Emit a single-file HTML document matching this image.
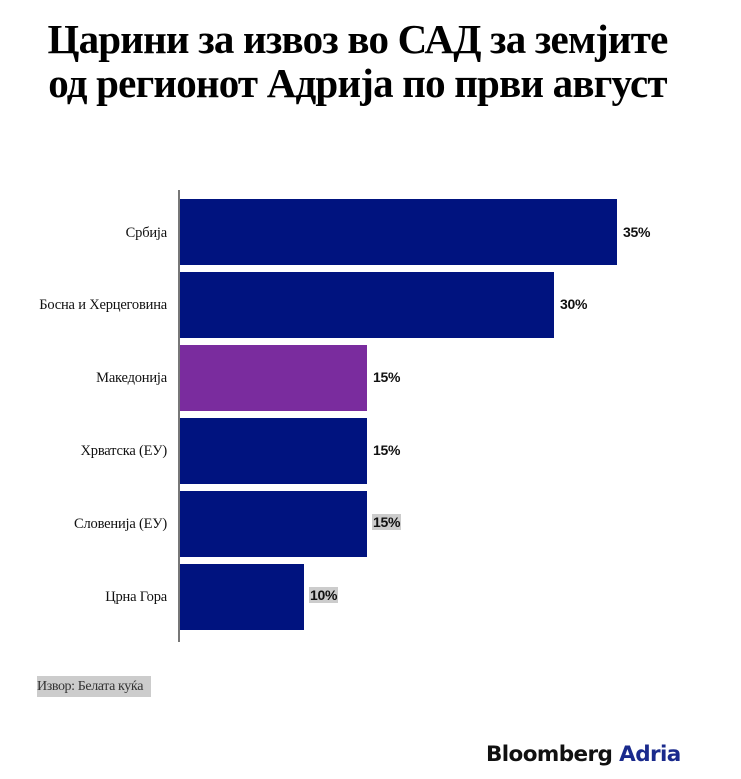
<!DOCTYPE html>
<html><head><meta charset="utf-8"><style>
body{margin:0;width:741px;height:779px;background:#fff;position:relative;overflow:hidden;font-family:"Liberation Serif",serif}
.t{position:absolute;left:-13px;width:741px;text-align:center;font-weight:bold;font-size:41px;letter-spacing:-0.8px;color:#000;line-height:46px}
.lab{position:absolute;right:574px;font-size:14.5px;letter-spacing:-0.2px;color:#111;text-align:right;white-space:nowrap;line-height:16px}
.bar{position:absolute;left:180px;height:66px;background:#00137f}
.v{position:absolute;font-family:"Liberation Sans",sans-serif;font-weight:bold;font-size:14px;color:#111;line-height:16px;letter-spacing:-0.3px}
.hl{background:#ccc;padding:0 1px}
</style></head><body>
<div class="t" style="top:16px">Царини за извоз во САД за земјите</div>
<div class="t" style="top:60px">од регионот Адрија по први август</div>
<div style="position:absolute;left:178px;top:190px;width:2px;height:452px;background:#777"></div>

<div class="bar" style="top:199px;width:437px"></div>
<div class="lab" style="top:225px">Србија</div><div class="v" style="left:623px;top:224px">35%</div>

<div class="bar" style="top:272px;width:374px"></div>
<div class="lab" style="top:297px">Босна и Херцеговина</div><div class="v" style="left:560px;top:296px">30%</div>

<div class="bar" style="top:345px;width:187px;background:#7a2c9e"></div>
<div class="lab" style="top:370px">Македонија</div><div class="v" style="left:373px;top:369px">15%</div>

<div class="bar" style="top:418px;width:187px"></div>
<div class="lab" style="top:443px">Хрватска (ЕУ)</div><div class="v" style="left:373px;top:442px">15%</div>

<div class="bar" style="top:491px;width:187px"></div>
<div class="lab" style="top:516px">Словенија (ЕУ)</div><div class="v" style="left:372px;top:514px"><span class="hl">15%</span></div>

<div class="bar" style="top:564px;width:124px"></div>
<div class="lab" style="top:589px">Црна Гора</div><div class="v" style="left:309px;top:587px"><span class="hl">10%</span></div>

<div style="position:absolute;left:37px;top:676px;width:114px;height:21px;background:#ccc;font-size:14px;letter-spacing:-0.4px;line-height:21px;color:#333;white-space:nowrap">Извор: Белата куќа</div>
<div style="position:absolute;left:486px;top:742px;font-family:'DejaVu Sans','Liberation Sans',sans-serif;font-size:21.5px;font-weight:bold;letter-spacing:-0.6px;color:#111">Bloomberg <span style="color:#1a2a8c">Adria</span></div>
</body></html>
